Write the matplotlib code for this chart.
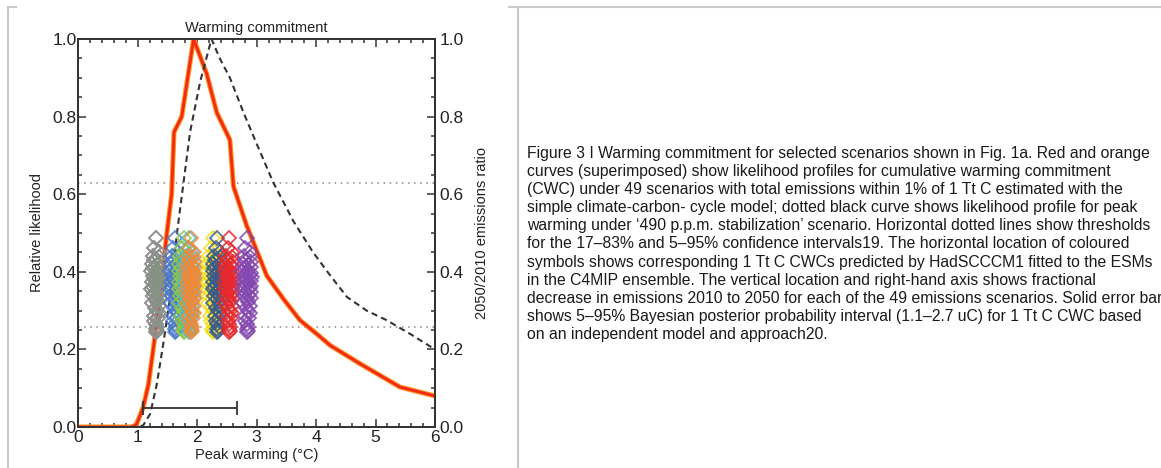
import numpy as np
import matplotlib
matplotlib.use("Agg")
import matplotlib.pyplot as plt
from matplotlib.ticker import MultipleLocator
from matplotlib.lines import Line2D

plt.rcParams['font.family'] = ['Liberation Sans', 'DejaVu Sans']

# likelihood profile for cumulative warming commitment (red/orange)
cwc_x = [0.0, 0.5, 0.9, 0.98, 1.09, 1.18, 1.26, 1.37, 1.49, 1.57, 1.61, 1.74, 1.94,
         2.16, 2.33, 2.55, 2.61, 2.83, 3.17, 3.45, 3.73, 4.01, 4.24, 4.74, 5.02, 5.41, 6.0]
cwc_y = [0.0, 0.0, 0.0, 0.007, 0.05, 0.11, 0.20, 0.33, 0.50, 0.60, 0.76, 0.80, 1.0,
         0.91, 0.81, 0.74, 0.62, 0.52, 0.39, 0.33, 0.275, 0.24, 0.21, 0.163, 0.138, 0.103, 0.08]

# likelihood profile for peak warming, 490 ppm stabilization (dotted black)
peak_x = [0.0, 0.5, 1.0, 1.09, 1.21, 1.32, 1.43, 1.54, 1.66, 1.77, 1.88, 2.05, 2.24,
          2.38, 2.55, 2.78, 3.0, 3.28, 3.62, 3.95, 4.24, 4.52, 4.85, 5.19, 5.58, 6.0]
peak_y = [0.0, 0.0, 0.0, 0.004, 0.034, 0.11, 0.215, 0.33, 0.50, 0.63, 0.76, 0.89, 1.0,
          0.95, 0.90, 0.81, 0.73, 0.63, 0.53, 0.45, 0.39, 0.335, 0.30, 0.275, 0.24, 0.20]

thresholds = [0.628, 0.258]
err_lo, err_hi, err_y = 1.09, 2.67, 0.05

# 2050/2010 emissions ratio of the 49 scenarios
ratios = [0.486, 0.462, 0.451, 0.441, 0.437, 0.430, 0.426, 0.421, 0.418, 0.412,
          0.409, 0.404, 0.401, 0.398, 0.394, 0.392, 0.388, 0.386, 0.382, 0.380,
          0.376, 0.374, 0.370, 0.368, 0.364, 0.361, 0.359, 0.355, 0.352, 0.349,
          0.346, 0.341, 0.338, 0.333, 0.329, 0.323, 0.319, 0.312, 0.307, 0.300,
          0.294, 0.286, 0.280, 0.272, 0.266, 0.258, 0.253, 0.248, 0.245]
# per-scenario shift of the CWC around each model's value
shifts = [0.00, -0.03, 0.04, -0.06, 0.05, -0.04, 0.07, -0.07, 0.02, 0.06,
          -0.05, 0.01, -0.08, 0.07, -0.01, 0.04, -0.06, 0.08, -0.03, 0.00,
          0.06, -0.07, 0.02, -0.02, 0.07, -0.05, 0.05, -0.08, 0.01, 0.06,
          -0.03, 0.03, -0.06, 0.07, -0.01, 0.02, -0.07, 0.05, -0.02, 0.01,
          0.05, -0.04, 0.03, -0.03, 0.00, 0.02, -0.01, 0.01, 0.00]
# C4MIP models: CWC centre and colour
model_cwc = [1.31, 1.31, 1.63, 1.77, 1.87, 1.90, 2.26, 2.34, 2.54, 2.84]
model_col = ['#d27ac8', '#849484', '#4a78c8', '#8cc84a', '#40c0d8', '#f08a3a',
             '#f2e21a', '#3a5a8a', '#e8282c', '#8448b0']

fig = plt.figure(figsize=(11.61, 4.68), dpi=100)
ax = fig.add_axes([78.3 / 1161, 1 - 427 / 468, (435 - 78.3) / 1161, (427 - 39) / 468])
ax2 = ax.twinx()

dark = '#333333'
for a in (ax, ax2):
    for s in a.spines.values():
        s.set_color(dark)
        s.set_linewidth(1.3)

for yv in thresholds:
    ax.axhline(yv, color='#888888', lw=1.1, ls=(0, (1, 3)), zorder=1)

for cx, col in zip(model_cwc, model_col):
    xs = [cx + s for s in shifts]
    ax2.plot(xs, ratios, 'D', ms=7.5, mfc='none', mec=col, mew=1.3, alpha=0.85, zorder=2)

ax.plot(cwc_x, cwc_y, color='#ff9020', lw=3.6, zorder=4, solid_joinstyle='miter')
ax.plot(cwc_x, cwc_y, color='#f02a14', lw=2.0, zorder=5, solid_joinstyle='miter')
ax.plot(peak_x, peak_y, color=dark, lw=1.5, ls=(0, (3, 2)), zorder=6)
ax.errorbar([(err_lo + err_hi) / 2], [err_y], xerr=[[(err_hi - err_lo) / 2]],
            fmt='none', ecolor=dark, elinewidth=1.3, capsize=5, capthick=1.3, zorder=6)

ax.set_xlim(0, 6)
ax.set_ylim(0, 1)
ax2.set_ylim(0, 1)
ax.xaxis.set_major_locator(MultipleLocator(1))
ax.xaxis.set_minor_locator(MultipleLocator(0.2))
for a in (ax, ax2):
    a.yaxis.set_major_locator(MultipleLocator(0.2))
    a.yaxis.set_minor_locator(MultipleLocator(0.05))
    a.yaxis.set_major_formatter(matplotlib.ticker.FormatStrFormatter('%.1f'))
ax.tick_params(which='both', direction='in', top=True, right=False, color=dark,
               labelsize=12.5, labelcolor='#222222', width=1.1)
ax.tick_params(which='major', length=6)
ax.tick_params(which='minor', length=3)
ax.tick_params(axis='y', pad=1)
ax.tick_params(axis='x', pad=2)
ax2.tick_params(which='both', direction='in', color=dark, labelsize=12.5,
                labelcolor='#222222', width=1.1, pad=3)
ax2.tick_params(which='major', length=6)
ax2.tick_params(which='minor', length=3)

ax.set_title('Warming commitment', fontsize=10.5, color='#222222', pad=5)
ax.set_xlabel('Peak warming (°C)', fontsize=10.5, color='#222222', labelpad=2)
ax.set_ylabel('Relative likelihood', fontsize=10.5, color='#222222', labelpad=6)
ax2.set_ylabel('2050/2010 emissions ratio', fontsize=10.5, color='#222222', labelpad=8)

# frame lines of the page layout
gray = '#c8c8c8'
fig.add_artist(Line2D([8 / 1161, 8 / 1161], [0, 1 - 7 / 468], color=gray, lw=1.5))
fig.add_artist(Line2D([8 / 1161, 16 / 1161], [1 - 7 / 468, 1 - 7 / 468], color=gray, lw=1.5))
fig.add_artist(Line2D([518 / 1161, 518 / 1161], [0, 1 - 7 / 468], color=gray, lw=1.5))
fig.add_artist(Line2D([509 / 1161, 1], [1 - 7 / 468, 1 - 7 / 468], color=gray, lw=1.5))

caption = [
    "Figure 3 I Warming commitment for selected scenarios shown in Fig. 1a. Red and orange",
    "curves (superimposed) show likelihood profiles for cumulative warming commitment",
    "(CWC) under 49 scenarios with total emissions within 1% of 1 Tt C estimated with the",
    "simple climate-carbon- cycle model; dotted black curve shows likelihood profile for peak",
    "warming under \u2018490 p.p.m. stabilization\u2019 scenario. Horizontal dotted lines show thresholds",
    "for the 17\u201383% and 5\u201395% confidence intervals19. The horizontal location of coloured",
    "symbols shows corresponding 1 Tt C CWCs predicted by HadSCCCM1 fitted to the ESMs",
    "in the C4MIP ensemble. The vertical location and right-hand axis shows fractional",
    "decrease in emissions 2010 to 2050 for each of the 49 emissions scenarios. Solid error bar",
    "shows 5\u201395% Bayesian posterior probability interval (1.1\u20132.7 uC) for 1 Tt C CWC based",
    "on an independent model and approach20.",
]
for i, line in enumerate(caption):
    fig.text(527 / 1161, 1 - (158 + i * 18.1) / 468, line, fontsize=11.3,
             color='#1a1a1a', va='baseline', ha='left')

fig.savefig('out.png', dpi=100)
